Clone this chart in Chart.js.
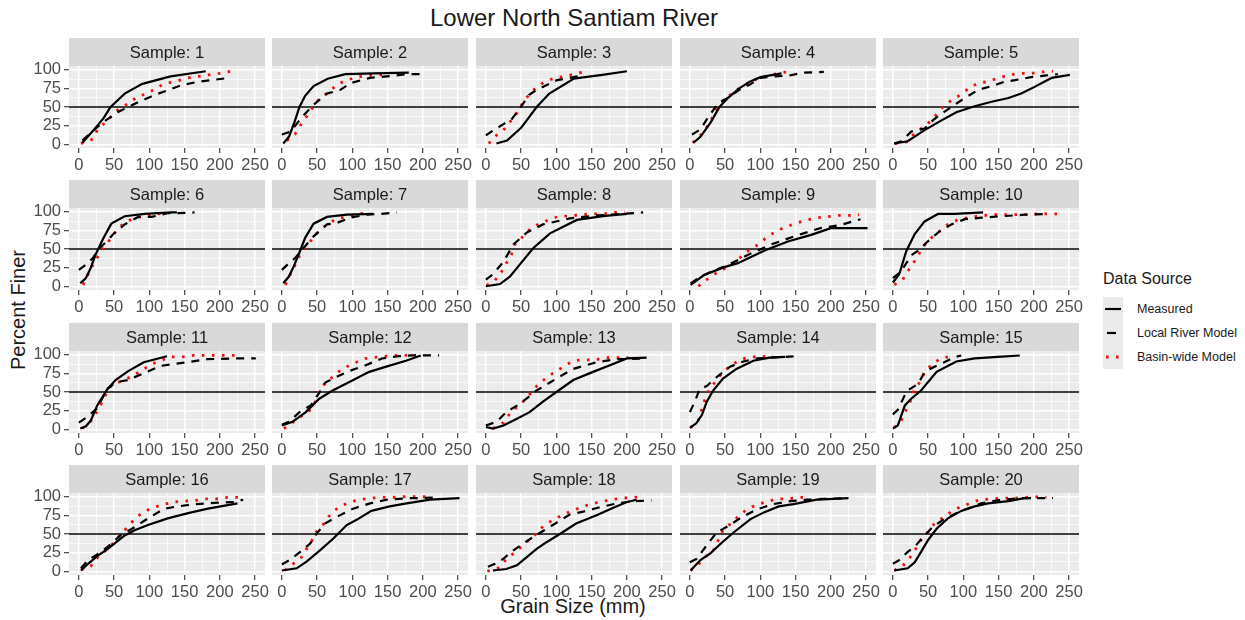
<!DOCTYPE html>
<html>
<head>
<meta charset="utf-8">
<script src="https://cdn.jsdelivr.net/npm/chart.js@4.4.1/dist/chart.umd.min.js"></script>
<style>
  html, body { margin: 0; padding: 0; background: #fff; }
  body { width: 1245px; height: 620px; position: relative; overflow: hidden;
         font-family: "Liberation Sans", Arial, sans-serif; color: #1a1a1a; }
  canvas { position: absolute; }
  .txt { position: absolute; white-space: nowrap; transform: translate(-50%, -50%); }
  .legend-label { position: absolute; left: 1137px; font-size: 12.5px; transform: translateY(-50%); }
</style>
</head>
<body>
<div class="txt" style="left:574px; top:18px; font-size:24px;">Lower North Santiam River</div>
<div class="txt" style="left:18px; top:310px; font-size:20px; transform: translate(-50%, -50%) rotate(-90deg);">Percent Finer</div>
<div class="txt" style="left:573px; top:606px; font-size:20px;">Grain Size (mm)</div>

<div style="position:absolute; left:1103px; top:270px; font-size:16px;">Data Source</div>
<svg style="position:absolute; left:1103px; top:297px;" width="20" height="72">
  <rect x="0" y="0" width="20" height="72" fill="#ebebeb"/>
  <line x1="2" y1="12" x2="18" y2="12" stroke="#000" stroke-width="2.2"/>
  <line x1="4" y1="36" x2="13" y2="36" stroke="#000" stroke-width="2.2"/>
  <line x1="3" y1="60" x2="18" y2="60" stroke="#ee1111" stroke-width="2.8" stroke-dasharray="2.6 7.4"/>
</svg>
<div class="legend-label" style="top:309px;">Measured</div>
<div class="legend-label" style="top:333px;">Local River Model</div>
<div class="legend-label" style="top:357px;">Basin-wide Model</div>

<script>
const sampleNames = Array.from({ length: 20 }, (_, i) => 'Sample: ' + (i + 1));
const xTicks = [0, 50, 100, 150, 200, 250];
const yTicks = [0, 25, 50, 75, 100];
const xGrid = [0, 25, 50, 75, 100, 125, 150, 175, 200, 225, 250];
const yGrid = [0, 12.5, 25, 37.5, 50, 62.5, 75, 87.5, 100];

// [grain size mm, percent finer] per sample
const measured = [
  [[5,2],[20,18],[35,35],[45,50],[65,68],[90,81],[130,91],[180,98]],
  [[2,1],[10,10],[18,30],[25,50],[33,65],[45,78],[65,88],[90,94],[130,95],[180,96]],
  [[15,1],[30,5],[50,22],[72,50],[90,68],[125,88],[165,93],[200,98]],
  [[5,2],[15,10],[30,30],[42,50],[55,63],[70,75],[85,84],[100,90],[130,95]],
  [[2,1],[21,4],[45,19],[69,32],[90,43],[116,51],[140,57],[164,62],[182,68],[201,77],[225,89],[251,93]],
  [[2,4],[10,11],[17,25],[24,43],[34,63],[46,84],[65,94],[93,97],[131,99],[139,99]],
  [[2,4],[10,13],[17,27],[24,43],[33,65],[45,84],[64,93],[92,96],[130,97]],
  [[0,0],[20,3],[34,13],[48,29],[67,51],[91,71],[129,89],[166,94],[200,97]],
  [[1,2],[7,6],[20,15],[50,26],[68,31],[106,48],[139,60],[172,69],[200,78],[252,78]],
  [[0,5],[9,16],[19,47],[31,70],[45,87],[64,97],[88,97],[128,99]],
  [[2,1],[10,4],[17,12],[26,32],[40,53],[52,66],[70,78],[92,90],[125,98]],
  [[0,5],[15,10],[34,23],[53,41],[72,52],[95,63],[124,77],[148,84],[176,92],[197,99]],
  [[0,3],[10,1],[25,5],[44,14],[62,23],[81,37],[100,50],[124,66],[152,77],[176,86],[200,95],[228,96]],
  [[0,2],[9,8],[17,19],[24,37],[33,52],[47,68],[66,81],[90,92],[113,96],[135,97]],
  [[0,1],[7,5],[17,32],[26,41],[40,52],[62,77],[90,91],[116,95],[149,97],[180,99]],
  [[3,1],[13,10],[27,21],[41,30],[53,39],[65,48],[79,55],[98,62],[126,71],[155,78],[183,84],[225,91]],
  [[0,1],[21,4],[35,13],[54,28],[73,44],[92,62],[106,69],[127,81],[153,87],[177,91],[210,96],[252,98]],
  [[10,1],[29,3],[44,8],[58,19],[72,30],[86,39],[105,50],[128,64],[157,75],[180,85],[200,93],[214,96]],
  [[1,1],[15,15],[29,24],[46,39],[62,52],[86,70],[105,79],[126,87],[147,90],[180,96],[204,97],[225,98]],
  [[2,1],[21,4],[31,12],[40,26],[50,42],[62,57],[78,71],[97,81],[116,87],[135,91],[164,94],[187,98],[196,98]]
];

const localModel = [
  [[5,5],[20,18],[35,30],[55,43],[85,57],[110,67],[145,79],[170,84],[213,89]],
  [[0,13],[12,17],[31,39],[45,53],[64,68],[83,73],[97,82],[125,89],[158,92],[177,94],[205,94]],
  [[0,12],[11,19],[25,27],[37,34],[49,49],[61,66],[72,73],[101,86],[124,90],[139,93]],
  [[3,13],[15,20],[25,35],[40,55],[55,63],[70,73],[85,80],[100,89],[120,91],[140,92],[160,96],[190,97]],
  [[2,1],[12,4],[26,17],[45,21],[54,30],[66,39],[83,50],[102,62],[121,73],[140,78],[159,84],[173,86],[196,90],[215,92],[234,94]],
  [[0,22],[10,29],[20,38],[27,49],[37,58],[51,72],[65,83],[84,93],[103,93],[126,98],[140,98],[164,99]],
  [[0,22],[9,30],[19,38],[26,46],[35,56],[45,67],[64,83],[78,85],[97,92],[120,96],[139,97],[163,99]],
  [[0,9],[10,16],[25,33],[39,56],[58,72],[81,83],[119,91],[157,95],[190,97],[223,99]],
  [[1,4],[12,11],[31,20],[53,28],[82,42],[115,56],[148,67],[185,78],[213,82],[242,90]],
  [[0,11],[12,20],[19,31],[28,43],[38,49],[47,58],[64,72],[83,83],[102,90],[126,92],[154,94],[187,96],[220,97]],
  [[0,9],[11,16],[26,28],[40,54],[52,63],[69,66],[92,75],[116,85],[154,90],[182,94],[220,95],[251,95]],
  [[0,6],[10,10],[25,23],[41,32],[51,46],[62,63],[77,70],[95,78],[119,86],[142,95],[166,98],[185,99],[223,99]],
  [[0,5],[15,10],[29,23],[48,34],[72,52],[100,68],[124,81],[157,90],[186,94],[228,95]],
  [[0,23],[7,37],[14,54],[24,58],[38,70],[57,84],[76,91],[95,95],[113,96],[132,97],[154,98]],
  [[0,20],[7,26],[17,46],[21,52],[36,61],[45,77],[59,84],[73,90],[88,97],[97,99]],
  [[3,4],[13,15],[32,26],[46,37],[60,49],[79,59],[98,71],[121,84],[140,87],[164,90],[197,92],[221,93],[233,96]],
  [[0,9],[11,15],[26,26],[40,37],[49,50],[61,64],[78,73],[101,84],[125,91],[149,96],[182,98],[224,99]],
  [[3,6],[13,10],[25,17],[36,26],[53,37],[67,46],[81,54],[100,65],[119,76],[138,80],[162,86],[186,91],[209,94],[235,95]],
  [[0,12],[10,17],[24,35],[38,52],[55,61],[71,71],[95,83],[118,90],[142,94],[166,96],[189,97],[223,98]],
  [[0,10],[9,15],[21,26],[31,33],[43,46],[57,60],[73,70],[97,81],[125,91],[154,96],[182,98],[227,98]]
];

const basinModel = [
  [[3,1],[20,7],[26,19],[37,29],[47,38],[57,48],[71,55],[83,64],[97,68],[111,76],[123,82],[137,84],[154,89],[170,91],[182,93],[199,95],[215,98]],
  [[7,5],[19,14],[28,28],[35,37],[45,51],[54,62],[68,71],[78,80],[92,86],[106,90],[120,92],[134,93],[151,94]],
  [[4,1],[15,12],[27,21],[44,42],[53,57],[61,66],[72,77],[84,84],[98,89],[112,91],[129,95],[143,98]],
  [[4,2],[15,12],[27,27],[38,47],[50,60],[62,70],[75,78],[90,86],[110,92],[130,96],[145,98]],
  [[3,1],[19,3],[28,12],[40,21],[52,30],[61,39],[71,50],[83,59],[97,67],[109,76],[121,82],[135,84],[149,89],[166,93],[180,95],[196,95],[211,97],[227,98]],
  [[6,2],[13,16],[20,29],[27,40],[37,54],[46,65],[56,78],[65,85],[79,92],[93,94],[110,97],[126,98]],
  [[5,2],[12,16],[19,29],[26,43],[35,54],[45,66],[54,76],[66,84],[78,91],[94,93],[108,97],[125,99]],
  [[1,1],[13,8],[22,19],[29,31],[36,42],[41,56],[53,67],[62,76],[74,83],[91,90],[105,94],[119,94],[133,96],[150,97],[166,97],[181,99],[197,99]],
  [[12,0],[24,9],[38,18],[50,24],[64,32],[73,40],[85,49],[97,56],[108,65],[121,73],[134,79],[149,84],[163,88],[179,92],[193,93],[210,95],[226,95],[240,96]],
  [[2,2],[14,9],[21,20],[31,34],[38,45],[47,58],[57,67],[69,76],[78,83],[92,89],[107,92],[121,94],[140,96],[156,96],[173,96],[189,96],[204,97],[218,97],[234,97]],
  [[5,1],[17,11],[24,21],[31,33],[39,48],[47,60],[59,64],[73,70],[88,78],[102,87],[116,92],[130,97],[147,97],[163,99],[182,99],[206,99],[222,99]],
  [[3,1],[15,9],[25,16],[39,25],[48,38],[53,50],[62,63],[72,70],[83,79],[100,88],[119,95],[138,97],[157,99],[174,99],[190,99]],
  [[10,1],[25,9],[34,21],[44,30],[55,39],[65,50],[74,60],[86,69],[98,77],[112,85],[124,92],[138,93],[155,93],[169,96],[186,96],[202,96]],
  [[1,2],[12,12],[21,39],[28,54],[38,66],[47,77],[59,86],[71,93],[85,97],[101,97],[118,99]],
  [[2,2],[12,12],[19,26],[25,38],[30,52],[38,63],[45,76],[55,87],[68,95],[82,98]],
  [[3,2],[17,7],[27,19],[38,28],[48,37],[58,48],[68,58],[78,69],[88,77],[103,85],[118,89],[134,93],[148,94],[164,95],[181,97],[195,97],[211,99],[226,99]],
  [[4,1],[16,10],[28,19],[35,30],[42,40],[49,53],[58,62],[66,73],[75,82],[85,88],[97,93],[110,96],[125,98],[139,99],[156,99],[172,100],[189,100],[205,100]],
  [[2,0],[17,4],[27,14],[38,23],[49,32],[60,41],[71,50],[82,61],[94,68],[106,74],[119,80],[133,85],[148,90],[162,93],[178,96],[192,98],[208,99],[225,100]],
  [[1,1],[12,9],[23,20],[34,29],[41,43],[47,55],[58,64],[69,74],[81,83],[94,89],[108,93],[123,97],[138,97],[154,99],[170,99]],
  [[2,1],[14,7],[24,18],[33,31],[40,42],[50,53],[59,64],[71,72],[83,80],[95,86],[109,91],[123,96],[139,97],[154,98],[170,98],[187,99],[201,100],[218,99]]
];

// facet geometry
const colLeft = [69, 272, 476, 680, 883];
const plotTop = [66, 208, 351, 493];
const panelW = 196;
const plotH = 82;
const stripH = 28;
const FONT = '"Liberation Sans", Arial, sans-serif';

Chart.defaults.font.family = FONT;

const toXY = pts => pts.map(([x, y]) => ({ x: x, y: y }));

// panel background, strip and the 50% reference line
const facetPlugin = {
  id: 'facet',
  beforeDraw(chart, args, opts) {
    const { ctx, chartArea: a } = chart;
    ctx.save();
    ctx.fillStyle = '#ebebeb';
    ctx.fillRect(a.left, a.top, a.right - a.left, a.bottom - a.top);
    ctx.fillStyle = '#d9d9d9';
    ctx.fillRect(a.left, a.top - stripH, a.right - a.left, stripH);
    ctx.fillStyle = '#1a1a1a';
    ctx.font = '16.5px ' + FONT;
    ctx.textAlign = 'center';
    ctx.textBaseline = 'middle';
    ctx.fillText(opts.label, (a.left + a.right) / 2, a.top - stripH / 2 + 1);
    ctx.restore();
  },
  beforeDatasetsDraw(chart) {
    const { ctx, chartArea: a, scales } = chart;
    const y = scales.y.getPixelForValue(50);
    ctx.save();
    ctx.strokeStyle = '#000';
    ctx.lineWidth = 1.5;
    ctx.beginPath();
    ctx.moveTo(a.left, y);
    ctx.lineTo(a.right, y);
    ctx.stroke();
    ctx.restore();
  }
};

for (let i = 0; i < 20; i++) {
  const r = Math.floor(i / 5);
  const c = i % 5;
  const padL = c === 0 ? 50 : 6;

  const canvas = document.createElement('canvas');
  canvas.width = padL + panelW + 12;
  canvas.height = stripH + plotH + 34;
  canvas.style.left = (colLeft[c] - padL) + 'px';
  canvas.style.top = (plotTop[r] - stripH) + 'px';
  document.body.appendChild(canvas);

  new Chart(canvas.getContext('2d'), {
    type: 'scatter',
    data: {
      datasets: [
        {
          label: 'Measured',
          data: toXY(measured[i]),
          showLine: true,
          borderColor: '#000',
          borderWidth: 2.2,
          pointRadius: 0,
          tension: 0
        },
        {
          label: 'Local River Model',
          data: toXY(localModel[i]),
          showLine: true,
          borderColor: '#000',
          borderWidth: 2.2,
          borderDash: [8, 7],
          pointRadius: 0,
          tension: 0
        },
        {
          label: 'Basin-wide Model',
          data: toXY(basinModel[i]),
          showLine: true,
          borderColor: '#ee1111',
          borderWidth: 2.8,
          borderDash: [2.6, 7.4],
          borderCapStyle: 'butt',
          pointRadius: 0,
          tension: 0
        }
      ]
    },
    options: {
      responsive: false,
      animation: false,
      devicePixelRatio: 1,
      events: [],
      layout: { padding: { left: c === 0 ? 0 : 6, right: 12, top: stripH, bottom: 0 } },
      plugins: {
        legend: { display: false },
        tooltip: { enabled: false },
        facet: { label: sampleNames[i] }
      },
      scales: {
        x: {
          type: 'linear',
          min: -14,
          max: 264,
          afterBuildTicks: s => { s.ticks = xGrid.map(v => ({ value: v })); },
          afterFit: s => { s.height = 34; },
          border: { display: false },
          grid: {
            color: '#ffffff',
            lineWidth: ctx => (xTicks.includes(ctx.tick.value) ? 1.4 : 0.7),
            tickColor: ctx => (xTicks.includes(ctx.tick.value) ? '#333333' : 'rgba(0,0,0,0)'),
            tickLength: 5,
            tickWidth: 1.1
          },
          ticks: {
            autoSkip: false,
            maxRotation: 0,
            padding: 3,
            color: '#4d4d4d',
            font: { size: 16.5 },
            callback: v => (xTicks.includes(v) ? String(v) : '')
          }
        },
        y: {
          type: 'linear',
          min: -5,
          max: 105,
          afterBuildTicks: s => { s.ticks = yGrid.map(v => ({ value: v })); },
          afterFit: s => { s.width = c === 0 ? 50 : 0; },
          border: { display: false },
          grid: {
            color: '#ffffff',
            lineWidth: ctx => (yTicks.includes(ctx.tick.value) ? 1.4 : 0.7),
            tickColor: ctx => (yTicks.includes(ctx.tick.value) ? '#333333' : 'rgba(0,0,0,0)'),
            drawTicks: c === 0,
            tickLength: 5,
            tickWidth: 1.1
          },
          ticks: {
            display: c === 0,
            autoSkip: false,
            padding: 3,
            color: '#4d4d4d',
            font: { size: 16.5 },
            callback: v => (yTicks.includes(v) ? String(v) : '')
          }
        }
      }
    },
    plugins: [facetPlugin]
  });
}
</script>
</body>
</html>
